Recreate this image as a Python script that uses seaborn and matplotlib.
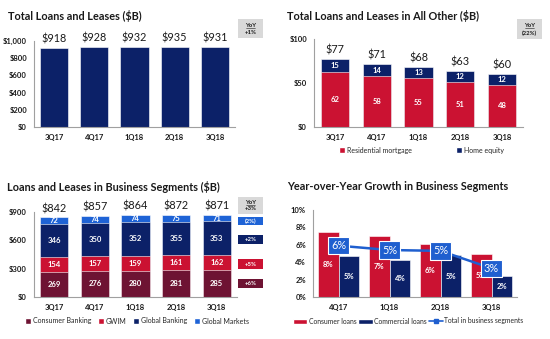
import matplotlib
matplotlib.use("Agg")
import matplotlib.pyplot as plt
from matplotlib.patches import Patch, Rectangle
from matplotlib.lines import Line2D
from matplotlib.ticker import FixedLocator
import numpy as np
import pandas as pd
import seaborn as sns

# ---- data ($B / %) ----
quarters = ["3Q17", "4Q17", "1Q18", "2Q18", "3Q18"]
total_loans = [918, 928, 932, 935, 931]

residential_mortgage = [62.0, 57.6, 55.2, 51.0, 48.2]
home_equity = [15.0, 13.8, 13.1, 12.2, 12.0]

consumer_banking = [269.4, 276.0, 279.8, 281.0, 285.0]
gwim = [154.3, 157.0, 158.8, 161.0, 162.0]
global_banking = [346.0, 350.0, 351.7, 355.0, 353.0]
global_markets = [72.3, 74.0, 73.8, 75.0, 71.0]

growth_quarters = ["4Q17", "1Q18", "2Q18", "3Q18"]
consumer_growth = [7.5, 7.0, 6.1, 4.9]
commercial_growth = [4.75, 4.2, 4.8, 2.4]
total_growth = [5.9, 5.4, 5.3, 3.3]

yoy_total = "+1%"
yoy_all_other = "(22%)"
yoy_segments = "+3%"
yoy_segment_items = ["(2%)", "+2%", "+5%", "+6%"]  # Global Markets .. Consumer Banking

# ---- style ----
NAVY = "#0C2168"
RED = "#CB1232"
MAROON = "#6E1333"
BLUE = "#1E63D6"
LINE_BLUE = "#1F5FCF"
GRAY_BOX = "#D9D9D9"
SPINE = "#A0A0A0"
TXT = "#1A1A1A"

sns.set_theme(style="white")
plt.rcParams["font.family"] = ["Lato", "DejaVu Sans"]

W, H = 550, 339
fig = plt.figure(figsize=(W / 100, H / 100), dpi=100)


def px_rect(l, r, b, t):
    return [l / W, 1 - b / H, (r - l) / W, (b - t) / H]


def fx(x):
    return x / W


def fy(y):
    return 1 - y / H


def style_axis(ax, ylim, yticks, ylabels, xlim):
    ax.set_xlim(*xlim)
    ax.set_ylim(*ylim)
    ax.yaxis.set_major_locator(FixedLocator(yticks))
    ax.set_yticklabels(ylabels)
    for s in ["top", "right"]:
        ax.spines[s].set_visible(False)
    for s in ["left", "bottom"]:
        ax.spines[s].set_color(SPINE)
        ax.spines[s].set_linewidth(0.8)
    ax.tick_params(axis="both", length=0, labelsize=5.5, colors=TXT)
    ax.tick_params(axis="y", pad=5)
    ax.tick_params(axis="x", pad=5)
    for lbl in ax.get_xticklabels() + ax.get_yticklabels():
        lbl.set_fontweight("bold")
    ax.set_xlabel("")
    ax.set_ylabel("")
    ax.grid(False)
    ax.set_facecolor("none")


def stacked(ax, layers, colors, width):
    # draw cumulative sums from the top layer down so each visible band is one layer
    cums = np.cumsum(np.array(layers), axis=0)
    for k in range(len(layers) - 1, -1, -1):
        sns.barplot(x=quarters, y=cums[k], color=colors[k], width=width,
                    saturation=1, ax=ax, edgecolor="white", linewidth=0.4)
    return cums


def inner_labels(ax, layers, fs=5.5):
    bottoms = np.zeros(len(layers[0]))
    for layer in layers:
        for i, v in enumerate(layer):
            ax.text(i, bottoms[i] + v / 2, f"{v:.0f}", ha="center", va="center",
                    color="white", fontsize=fs, fontweight="bold")
        bottoms = bottoms + np.array(layer)


def top_labels(ax, values, fmt="${:.0f}"):
    for i, v in enumerate(values):
        ax.annotate(fmt.format(v), (i, v), xytext=(0, 2.5), textcoords="offset points",
                    ha="center", va="bottom", fontsize=7.8, color=TXT)


def fig_box(l, t, r, b, color, lines, txtcolor, fs=4.3, underline=False):
    fig.patches.append(Rectangle((fx(l), fy(b)), fx(r - l), (b - t) / H,
                                 transform=fig.transFigure, facecolor=color,
                                 edgecolor="none", zorder=1))
    cx = fx((l + r) / 2)
    if len(lines) == 2:
        y1 = t + (b - t) * 0.32
        y2 = t + (b - t) * 0.70
        fig.text(cx, fy(y1), lines[0], ha="center", va="center", fontsize=fs,
                 fontweight="bold", color=txtcolor)
        if underline:
            fig.add_artist(Line2D([fx((l + r) / 2 - 4.5), fx((l + r) / 2 + 4.5)],
                                  [fy(y1 + 3), fy(y1 + 3)], color=txtcolor,
                                  lw=0.4, transform=fig.transFigure))
        fig.text(cx, fy(y2), lines[1], ha="center", va="center", fontsize=fs,
                 fontweight="bold", color=txtcolor)
    else:
        fig.text(cx, fy((t + b) / 2), lines[0], ha="center", va="center",
                 fontsize=fs, fontweight="bold", color=txtcolor)


title_kw = dict(fontsize=7.8, fontweight="bold", color=TXT, va="center", ha="left")

# ---- panel 1: total loans and leases ----
ax1 = fig.add_axes(px_rect(34, 235, 127, 41))
sns.barplot(x=quarters, y=total_loans, color=NAVY, width=0.7, saturation=1,
            ax=ax1, edgecolor="white", linewidth=0.4)
style_axis(ax1, (0, 1000), [0, 200, 400, 600, 800, 1000],
           ["$0", "$200", "$400", "$600", "$800", "$1,000"], (-0.5, 4.5))
top_labels(ax1, total_loans)
fig.text(fx(8), fy(16), "Total Loans and Leases ($B)", **title_kw)
fig_box(238, 19, 263, 38, GRAY_BOX, ["YoY", yoy_total], TXT, underline=True)

# ---- panel 2: all other ----
ax2 = fig.add_axes(px_rect(314, 523, 127, 39))
layers2 = [residential_mortgage, home_equity]
cums2 = stacked(ax2, layers2, [RED, NAVY], 0.67)
style_axis(ax2, (0, 100), [0, 50, 100], ["$0", "$50", "$100"], (-0.5, 4.5))
inner_labels(ax2, layers2)
top_labels(ax2, cums2[-1])
fig.text(fx(287), fy(16), "Total Loans and Leases in All Other ($B)", **title_kw)
fig_box(517, 19, 542, 39, GRAY_BOX, ["YoY", yoy_all_other], TXT, underline=True)
leg2 = [Patch(facecolor=RED, label="Residential mortgage"),
        Patch(facecolor=NAVY, label="Home equity")]
fig.legend(handles=leg2, loc="center left", bbox_to_anchor=(fx(339), fy(150)),
           ncol=2, frameon=False, fontsize=5.0, handlelength=0.8, handleheight=0.8,
           handletextpad=0.3, columnspacing=6.4, borderpad=0, borderaxespad=0)

# ---- panel 3: business segments ----
ax3 = fig.add_axes(px_rect(34, 237, 297, 212))
layers3 = [consumer_banking, gwim, global_banking, global_markets]
cums3 = stacked(ax3, layers3, [MAROON, RED, NAVY, BLUE], 0.69)
style_axis(ax3, (0, 900), [0, 300, 600, 900], ["$0", "$300", "$600", "$900"],
           (-0.5, 4.5))
inner_labels(ax3, layers3)
top_labels(ax3, cums3[-1])
fig.text(fx(7), fy(187), "Loans and Leases in Business Segments ($B)", **title_kw)
fig_box(238, 197, 263, 214, GRAY_BOX, ["YoY", yoy_segments], TXT, underline=True)
side = [(217, 225, BLUE), (235, 244, NAVY), (259, 269, RED), (279, 288, MAROON)]
for (t, b, c), txt in zip(side, yoy_segment_items):
    fig_box(238, t, 263, b, c, [txt], "white")
leg3 = [Patch(facecolor=MAROON, label="Consumer Banking"),
        Patch(facecolor=RED, label="GWIM"),
        Patch(facecolor=NAVY, label="Global Banking"),
        Patch(facecolor=BLUE, label="Global Markets")]
fig.legend(handles=leg3, loc="center left", bbox_to_anchor=(fx(25), fy(321)),
           ncol=4, frameon=False, fontsize=5.0, handlelength=0.8, handleheight=0.8,
           handletextpad=0.3, columnspacing=1.0, borderpad=0, borderaxespad=0)

# ---- panel 4: year-over-year growth ----
ax4 = fig.add_axes(px_rect(313, 517, 297, 210))
growth = pd.DataFrame({
    "quarter": growth_quarters * 2,
    "kind": ["Consumer loans"] * 4 + ["Commercial loans"] * 4,
    "value": consumer_growth + commercial_growth,
})
sns.barplot(data=growth, x="quarter", y="value", hue="kind",
            palette=[RED, NAVY], width=0.82, saturation=1, ax=ax4,
            edgecolor="white", linewidth=0.4, legend=False)
sns.lineplot(x=np.arange(len(total_growth)), y=total_growth, color=LINE_BLUE,
             lw=1.8, ax=ax4, zorder=4)
style_axis(ax4, (0, 10), [0, 2, 4, 6, 8, 10],
           ["0%", "2%", "4%", "6%", "8%", "10%"], (-0.5, 3.5))
ax4.set_xticks(range(len(growth_quarters)))
ax4.set_xticklabels(growth_quarters, fontweight="bold", fontsize=5.5)
for i, (cv, mv) in enumerate(zip(consumer_growth, commercial_growth)):
    ax4.text(i - 0.205, cv / 2, f"{cv:.0f}%", ha="center", va="center",
             color="white", fontsize=5.5, fontweight="bold")
    ax4.text(i + 0.205, mv / 2, f"{mv:.0f}%", ha="center", va="center",
             color="white", fontsize=5.5, fontweight="bold")
for i, v in enumerate(total_growth):
    ax4.text(i, v, f"{v:.0f}%", ha="center", va="center", color="white",
             fontsize=7.8, zorder=6,
             bbox=dict(boxstyle="square,pad=0.3", fc=LINE_BLUE, ec="white", lw=0.8))
fig.text(fx(287), fy(187), "Year-over-Year Growth in Business Segments", **title_kw)
leg4 = [Patch(facecolor=RED, label="Consumer loans"),
        Patch(facecolor=NAVY, label="Commercial loans"),
        Line2D([0], [0], color=LINE_BLUE, lw=1.2, marker="s", markersize=2.5,
               label="Total in business segments")]
fig.legend(handles=leg4, loc="center left", bbox_to_anchor=(fx(293), fy(321)),
           ncol=3, frameon=False, fontsize=4.9, handlelength=2.1, handleheight=0.7,
           handletextpad=0.2, columnspacing=0.3, borderpad=0, borderaxespad=0)

fig.savefig("out.png", dpi=100)
